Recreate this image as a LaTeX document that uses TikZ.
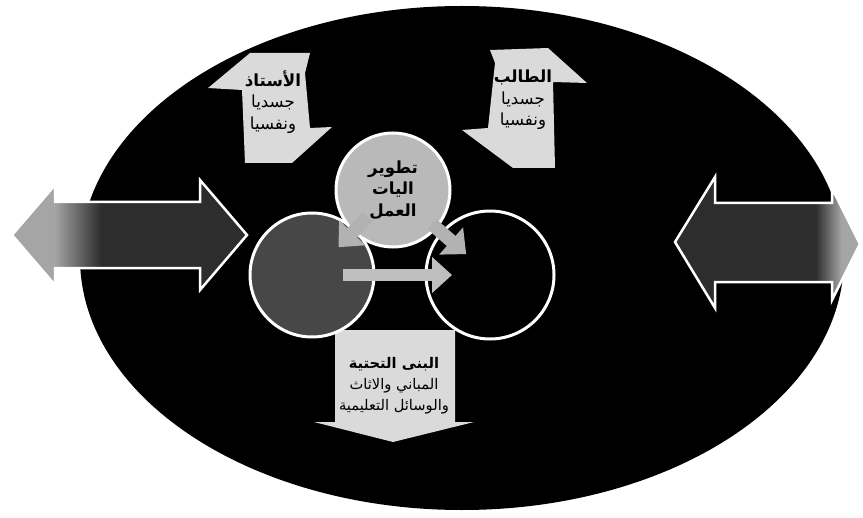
\documentclass[tikz,border=0pt]{standalone}
\usepackage{fontspec}
\usepackage{tikz}
\usetikzlibrary{arrows.meta}
\newfontfamily\arabicfont[Script=Arabic]{DejaVu Sans}
\TeXXeTstate=1
\newcommand{\rtl}[1]{\beginR #1\endR}
\definecolor{armlight}{RGB}{165,165,165}
\definecolor{armdark}{RGB}{45,45,45}
\definecolor{palefill}{RGB}{218,218,218}
\pgfdeclarehorizontalshading{fadeleft}{100bp}{color(0bp)=(armlight); color(34bp)=(armlight); color(44bp)=(armdark); color(100bp)=(armdark)}
\pgfdeclarehorizontalshading{faderight}{100bp}{color(0bp)=(armdark); color(63bp)=(armdark); color(70bp)=(armlight); color(100bp)=(armlight)}

\begin{document}
\begin{tikzpicture}[
  x=0.6pt, y=-0.6pt,
  lbl/.style={font=\arabicfont\fontsize{10}{13}\selectfont, align=center, text=black},
  small lbl/.style={lbl, font=\arabicfont\fontsize{8.8}{12.5}\selectfont},
  ring/.style={circle, draw=white, line width=1.8pt, inner sep=0pt},
  pale/.style={fill=palefill},
  link/.style={draw=gray!60, line width=8pt, -{Triangle[length=12pt,width=21pt]}}
]
\useasboundingbox (0,0) rectangle (863,518);
\fill[black] (462,258) ellipse [x radius=382, y radius=252];

\shade[shading=fadeleft, draw=white, line width=1.5pt] (12,235) -- (55,185) -- (55,202) -- (200,202) -- (200,180) -- (247,235) -- (200,290) -- (200,268) -- (55,268) -- (55,285) -- cycle;
\shade[shading=faderight, draw=white, line width=1.5pt] (675,242) -- (715,177) -- (715,203) -- (832,203) -- (832,188) -- (860,244) -- (832,300) -- (832,282) -- (715,282) -- (715,308) -- cycle;

\fill[pale] (250,53) -- (310,53) -- (305,73) -- (310,128) -- (332,127) -- (292,163) -- (245,163) -- (242,90) -- (208,88) -- cycle;
\fill[pale] (490,50) -- (548,48) -- (587,83) -- (553,82) -- (555,168) -- (513,168) -- (462,130) -- (488,128) -- (495,63) -- cycle;
\fill[pale] (335,330) -- (455,330) -- (455,422) -- (474,422) -- (393,442) -- (314,422) -- (335,422) -- cycle;

\node[lbl] (teacher) at (273,102) {\rtl{\textbf{الأستاذ}}\\ \rtl{جسديا}\\ \rtl{ونفسيا}};
\node[lbl] (student) at (523,100) {\rtl{\textbf{الطالب}}\\ \rtl{جسديا}\\ \rtl{ونفسيا}};
\node[small lbl] (infra) at (394,386) {\rtl{\textbf{البنى التحتية}}\\ \rtl{المباني والاثاث}\\ \rtl{والوسائل التعليمية}};

\node[ring, fill=black!72, minimum size=74.4pt] (leftring) at (312,275) {};
\node[ring, fill=black, minimum size=76.8pt] (rightring) at (490,275) {};
\node[ring, fill=gray!55, minimum size=68.4pt, lbl] (topring) at (393,190) {\rtl{\textbf{تطوير}}\\ \rtl{\textbf{اليات}}\\ \rtl{\textbf{العمل}}};

\draw[link, shorten <=22pt, shorten >=23pt] (topring.center) -- (leftring.center);
\draw[link, shorten <=31pt, shorten >=19pt] (topring.center) -- (rightring.center);
\draw[link, draw=gray!50, line width=7pt, shorten <=18.6pt, shorten >=22.8pt] (leftring.center) -- (rightring.center);
\end{tikzpicture}
\end{document}
